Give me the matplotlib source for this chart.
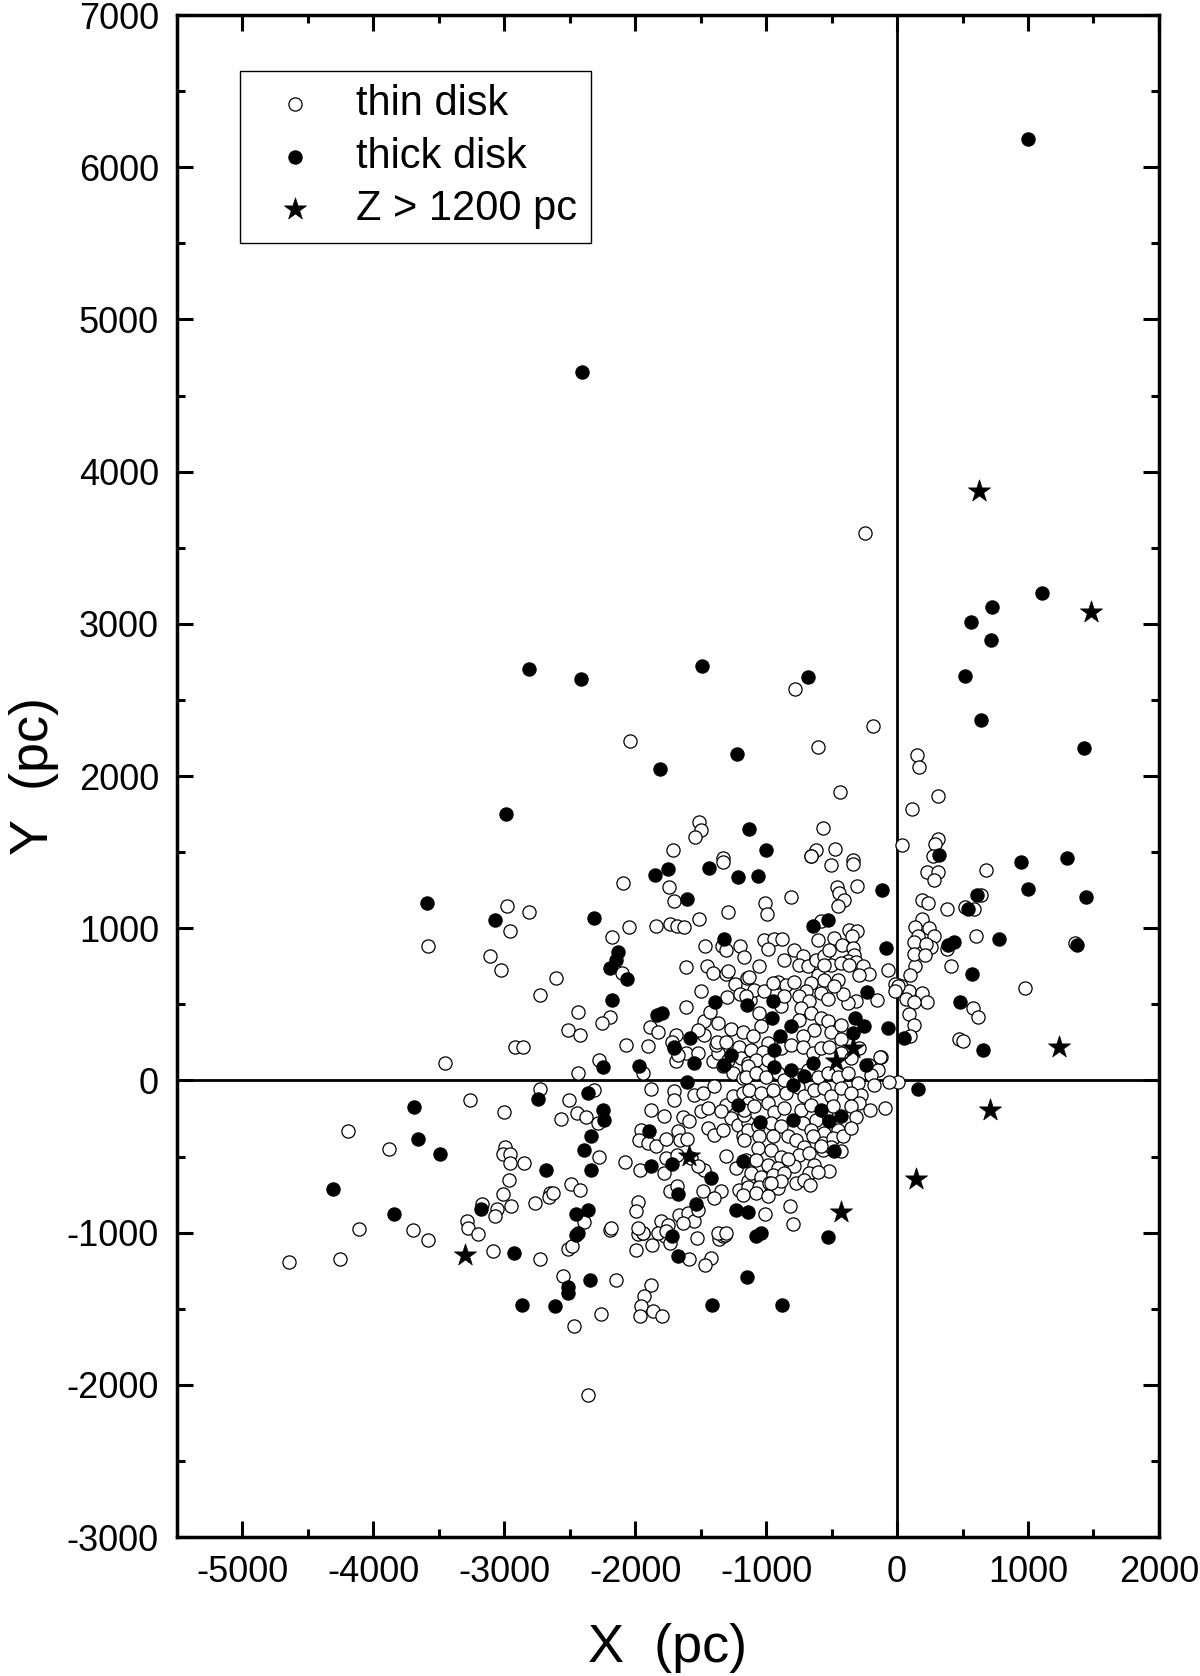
import numpy as np
import matplotlib
matplotlib.use("Agg")
import matplotlib.pyplot as plt
from matplotlib.ticker import MultipleLocator

plt.rcParams['font.family'] = ['Liberation Sans', 'DejaVu Sans']
plt.rcParams['axes.unicode_minus'] = False

# galactocentric-ish X, Y positions (pc)
thin_disk = np.array([
    # right of X=0
    (413, 749), (978, 609), (583, 475), (616, 416), (476, 272), (502, 259), (138, 749), (99, 695),
    (5, 629), (31, 618), (94, 585), (191, 576), (227, 515), (69, 535), (128, 515), (94, 438),
    (128, 364), (102, 289), (5, -7), (153, 2140), (166, 2060), (316, 1869), (112, 1783), (38, 1549),
    (311, 1586), (290, 1556), (275, 1472), (229, 1369), (311, 1369), (280, 1319), (680, 1385),
    (637, 1221), (586, 1126), (520, 1137), (380, 1128), (191, 1188), (239, 1165), (191, 1060),
    (140, 1008), (247, 1001), (163, 951), (285, 947), (128, 907), (260, 880), (222, 898), (132, 830),
    (214, 826), (604, 951), (382, 863), (1360, 902), (-245, 3596),
    # upper middle
    (-779, 2573), (-183, 2330), (-2037, 2230), (-606, 2190), (-433, 1897), (-1510, 1695), (-1497, 1643),
    (-1541, 1599), (-563, 1660), (-1714, 1511), (-617, 1511), (-657, 1476), (-474, 1522), (-1327, 1461),
    (-338, 1450),
    # far left
    (-3585, 886), (-2980, 1148), (-2814, 1109), (-2957, 980), (-3112, 820), (-3025, 723), (-2603, 675),
    (-2725, 564), (-2916, 219), (-2855, 219), (-3456, 118), (-2725, -55), (-3260, -131), (-3002, -210),
    (-4192, -334), (-3881, -451), (-2997, -438), (-3008, -486), (-2959, -486), (-2957, -543), (-2847, -539),
    (-2967, -657), (-3008, -749), (-2649, -740), (-2656, -768), (-2766, -806), (-3173, -810), (-3054, -845),
    (-3071, -893), (-2949, -828), (-4108, -976), (-3698, -981), (-3581, -1047), (-3287, -922), (-3275, -970),
    (-3203, -1012), (-3084, -1123), (-4258, -1173), (-2730, -1173), (-4645, -1194),
    # lower part
    (-2516, -1108), (-2483, -1086), (-2554, -1288), (-2149, -1309), (-2261, -1533), (-2470, -1614),
    (-2358, -2065), (-1879, -1342), (-1935, -1418), (-1953, -1484), (-1966, -1546), (-1867, -1515),
    (-1795, -1550), (-1996, -1117), (-1976, -1007), (-1942, -1003), (-1874, -1079), (-1798, -992),
    (-1772, -1024), (-1737, -1068), (-1587, -1173), (-1526, -1035), (-1421, -1167), (-1467, -1213),
    (-1358, -1042), (-1332, -1020), (-1312, -1014), (-2190, -981),
    # left-centre
    (-2274, 136), (-1943, 49), (-2435, 49), (-2070, 235), (-1905, 228), (-1879, -57), (-2313, -65),
    (-2504, -131), (-2443, -214), (-2379, -241), (-2567, -252), (-2287, -280), (-2274, -503), (-2491, -679),
    (-2420, -718), (-2631, -740), (-2394, -933), (-2185, -970), (-1879, -193), (-2078, -538), (-1961, -591),
    (-1976, -801), (-1994, -860), (-1956, -328), (-1969, -389), (-1905, -411), (-1841, -433),
    (-1778, -232), (-1701, -72), (-1701, -127), (-1637, -240), (-1675, -334), (-1765, -385), (-1655, -389),
    (-1604, -385), (-1765, -510), (-1681, -488), (-1574, -510), (-1778, -608), (-1472, -587), (-1523, -565),
    (-1306, -499), (-1230, -576), (-1345, -729), (-1484, -729), (-1396, -773), (-1205, -718), (-1141, -663),
    (-1732, -729), (-1681, -696), (-1663, -882), (-1599, -871), (-1548, -926), (-1637, -937), (-1523, -849),
    (-1803, -926), (-1752, -947), (-1828, -1003), (-1765, -992), (-1943, -1003), (-1976, -970),
    (-1370, -1003), (-1306, -1003), (-1587, -269), (-1497, -203), (-1446, -313), (-1396, -357),
    (-1332, -324), (-1268, -247), (-1217, -291), (-1179, -368), (-1141, -280), (-1166, -225),
    (-1548, -94), (-1484, -83), (-1396, -39), (-1306, -160), (-1446, -181), (-1345, -203), (-1255, -105),
    (-1179, -83), (-1141, -148), (-1612, 180), (-1523, 180), (-1688, 125), (-1675, 169), (-1408, 125),
    (-1370, 180), (-1383, 235), (-1332, 92), (-1294, 136), (-1205, 223), (-1192, 147), (-1141, 114),
    (-1255, 49), (-1179, 16), (-1141, 59),
    # upper left-centre
    (-1327, 1435), (-2096, 1297), (-1739, 1271), (-1706, 1177), (-1289, 1104), (-1510, 1063), (-2050, 1008),
    (-1839, 1017), (-1734, 1030), (-1681, 1017), (-1630, 1008), (-2180, 942), (-1465, 885), (-1339, 881),
    (-1306, 859), (-1197, 881), (-1171, 811), (-2103, 706), (-1612, 745), (-1452, 754), (-1408, 706),
    (-1306, 699), (-1238, 633), (-1146, 673), (-1294, 716), (-1497, 591), (-1299, 548), (-1197, 570),
    (-1121, 530), (-1612, 482), (-2439, 447), (-2190, 420), (-2256, 377), (-2516, 329), (-2422, 300),
    (-1885, 351), (-1828, 316), (-1688, 300), (-1721, 250), (-1472, 388), (-1426, 447), (-1370, 377),
    (-1268, 338), (-1179, 316), (-1375, 250), (-1306, 250), (-1472, 300), (-1523, 333),
    # upper core
    (-657, 1472), (-504, 1417), (-338, 1424), (-306, 1280), (-810, 1205), (-458, 1271), (-441, 1231),
    (-407, 1183), (-453, 1144), (-1008, 1166), (-993, 1096), (-581, 1045), (-364, 991), (-306, 980),
    (-346, 951), (-606, 925), (-479, 936), (-423, 892), (-1018, 925), (-937, 929), (-879, 929), (-988, 863),
    (-338, 870), (-326, 826), (-377, 782), (-313, 776), (-785, 859), (-861, 794), (-720, 815), (-746, 761),
    (-682, 749), (-619, 794), (-555, 815), (-504, 761), (-428, 771), (-364, 761), (-262, 749), (-212, 701),
    (-288, 695), (-66, 723), (-15, 635), (10, 623), (-15, 585), (-153, 526), (-313, 519), (-377, 512),
    (-417, 570), (-453, 661), (-606, 695), (-555, 657), (-479, 618), (-581, 574), (-657, 640), (-695, 585),
    (-746, 552), (-670, 519), (-530, 535), (-911, 650), (-848, 629), (-785, 650), (-1052, 749), (-1128, 683),
    (-1090, 596), (-1014, 585), (-950, 640), (-1052, 443), (-886, 487), (-733, 476), (-657, 443), (-746, 399),
    (-581, 410), (-530, 388), (-632, 333), (-504, 316), (-428, 366), (-428, 272), (-720, 289), (-1039, 355),
    (-1102, 289), (-988, 246), (-861, 552), (-1154, 552), (-517, 859), (-555, 760),
    # lower core
    (-1116, 201), (-1026, 190), (-1077, 136), (-1141, 92), (-988, 136), (-886, 212), (-810, 234), (-721, 223),
    (-644, 179), (-581, 212), (-517, 223), (-428, 179), (-351, 147), (-288, 212), (-211, 103), (-148, 70),
    (-122, 157), (-1154, 26), (-1077, 48), (-1001, 26), (-912, 48), (-861, 4), (-746, 37), (-683, 70),
    (-606, 26), (-530, 48), (-453, 26), (-377, 48), (-301, -18), (-199, 37), (-173, -29), (-275, -94),
    (-1128, -62), (-1039, -83), (-950, -62), (-848, -83), (-759, -40), (-708, -105), (-632, -62), (-555, -51),
    (-504, -105), (-428, -51), (-351, -83), (-288, -149), (-1167, -193), (-1090, -171), (-988, -149),
    (-937, -204), (-861, -182), (-734, -193), (-657, -160), (-619, -259), (-543, -204), (-492, -171),
    (-351, -171), (-313, -237), (-1141, -324), (-1065, -302), (-963, -281), (-886, -302), (-721, -281),
    (-657, -324), (-555, -346), (-453, -324), (-1167, -390), (-1052, -368), (-950, -368), (-835, -368),
    (-772, -390), (-708, -434), (-644, -368), (-568, -412), (-492, -379), (-415, -368), (-1065, -445),
    (-963, -456), (-886, -500), (-746, -489), (-670, -478), (-568, -456), (-504, -434), (-1154, -521),
    (-1077, -521), (-988, -554), (-912, -576), (-785, -565), (-632, -554), (-1116, -609), (-1039, -631),
    (-950, -620), (-861, -609), (-670, -609), (-1141, -697), (-1052, -697), (-975, -675), (-912, -708),
    (-772, -675), (-708, -653), (-1179, -751), (-1077, -740), (-988, -762),
    (-815, -828), (-797, -943), (-1008, -876), (-351, -313), (-428, -466), (-581, -433), (-204, -197),
    (-92, -181), (-59, -7), (-127, 154), (-517, -597), (-835, -516), (-662, -685), (-606, -604),
    (-886, -663), (-963, -674),
])

thick_disk = np.array([
    (996, 6187), (-2408, 4656), (1110, 3202), (727, 3111), (563, 3013), (-2808, 2704), (-2416, 2640),
    (-2988, 1749), (718, 2895), (520, 2655), (639, 2370), (1431, 2184), (323, 1483), (947, 1433),
    (1296, 1459), (998, 1258), (1444, 1208), (609, 1216), (540, 1128), (387, 892), (438, 907), (777, 931),
    (1373, 892), (573, 701), (481, 513), (659, 197), (56, 279), (163, -57),
    (-1490, 2720), (-682, 2650), (-1222, 2146), (-1808, 2046), (-1128, 1652), (-1003, 1511),
    (-1849, 1352), (-1752, 1389), (-1434, 1395), (-1217, 1340), (-1604, 1192), (-2317, 1067), (-1324, 929),
    (-2134, 842), (-2147, 794), (-2190, 739), (-2063, 666), (-2177, 526), (-1390, 517), (-1146, 497),
    (-1834, 432), (-1798, 443), (-1579, 279), (-1701, 219),
    (-1060, 1345), (-117, 1253), (-644, 1017), (-530, 1052), (-84, 868), (-71, 344), (-229, 578),
    (-319, 410), (-250, 355), (-338, 311), (-950, 519), (-957, 410), (-810, 359), (-892, 294),
    (-3593, 1168), (-3071, 1056), (-2745, -120), (-3692, -177), (-3660, -383), (-3494, -482), (-2682, -591),
    (-4310, -713), (-3178, -845), (-3845, -876), (-2926, -1134),
    (-2452, -1014), (-2516, -1357), (-2516, -1397), (-2343, -1314), (-2865, -1472), (-2611, -1480),
    (-1416, -1478), (-1719, -1024), (-1671, -1151), (-1148, -1290), (-1077, -1020), (-882, -1475),
    (-2248, 88), (-1969, 97), (-1701, 213), (-2363, -83), (-2248, -193), (-2240, -262), (-2338, -363),
    (-2389, -455), (-2338, -591), (-2452, -876), (-2358, -854), (-2436, -1003), (-1879, -560), (-1892, -334),
    (-1721, -547), (-1421, -641), (-1675, -744), (-1536, -810), (-1230, -849), (-1141, -867), (-1212, -160),
    (-1604, -13), (-1553, 118), (-1268, 169), (-1319, 103), (-1179, -532),
    (-237, 103), (-428, -232), (-517, -269), (-581, -197), (-797, -258), (-1044, -276), (-810, 66),
    (-937, 88), (-713, 31), (-644, 118), (-937, 197), (-479, -466), (-1039, -1003), (-530, -1029),
    (-797, -28),
])

# stars with Z > 1200 pc
high_z = np.array([
    (629, 3876), (1478, 3076), (1235, 217), (708, -197), (145, -650), (-428, -867), (-1587, -499),
    (-3298, -1145), (-338, 213), (-466, 125),
])

fig = plt.figure(figsize=(12, 16.76), dpi=100)
ax = fig.add_axes([0.1475, 0.0829, 0.8183, 0.9081])

ax.axhline(0, color='black', lw=2.0, zorder=1)
ax.axvline(0, color='black', lw=2.0, zorder=1)

ax.scatter(thin_disk[:, 0], thin_disk[:, 1], s=90, facecolors='white', edgecolors='black',
           linewidths=0.9, zorder=3, label='thin disk')
ax.scatter(thick_disk[:, 0], thick_disk[:, 1], s=90, facecolors='black', edgecolors='black',
           linewidths=0.9, zorder=4, label='thick disk')
ax.scatter(high_z[:, 0], high_z[:, 1], s=280, marker='*', facecolors='black', edgecolors='black',
           linewidths=0.5, zorder=5, label='Z > 1200 pc')

ax.set_xlim(-5500, 2000)
ax.set_ylim(-3000, 7000)
ax.xaxis.set_major_locator(MultipleLocator(1000))
ax.xaxis.set_minor_locator(MultipleLocator(500))
ax.yaxis.set_major_locator(MultipleLocator(1000))
ax.yaxis.set_minor_locator(MultipleLocator(500))

ax.tick_params(which='both', direction='in', top=True, right=True, width=2.2, labelsize=26, pad=13)
ax.tick_params(which='major', length=11.5)
ax.tick_params(which='minor', length=5.8)
for sp in ax.spines.values():
    sp.set_linewidth(2.5)

ax.set_xlabel('X  (pc)', fontsize=39, labelpad=24)
ax.set_ylabel('Y  (pc)', fontsize=39)
ax.yaxis.set_label_coords(-0.12, 0.5)

leg = ax.legend(loc='upper left', bbox_to_anchor=(0.064, 0.9632), borderaxespad=0,
                fontsize=30, frameon=True, fancybox=False, framealpha=1, edgecolor='black',
                borderpad=0.32, handlelength=2.0, handletextpad=0.47, labelspacing=0.3,
                scatterpoints=1)
leg.get_frame().set_linewidth(1.0)

fig.savefig('out.png', dpi=100)
